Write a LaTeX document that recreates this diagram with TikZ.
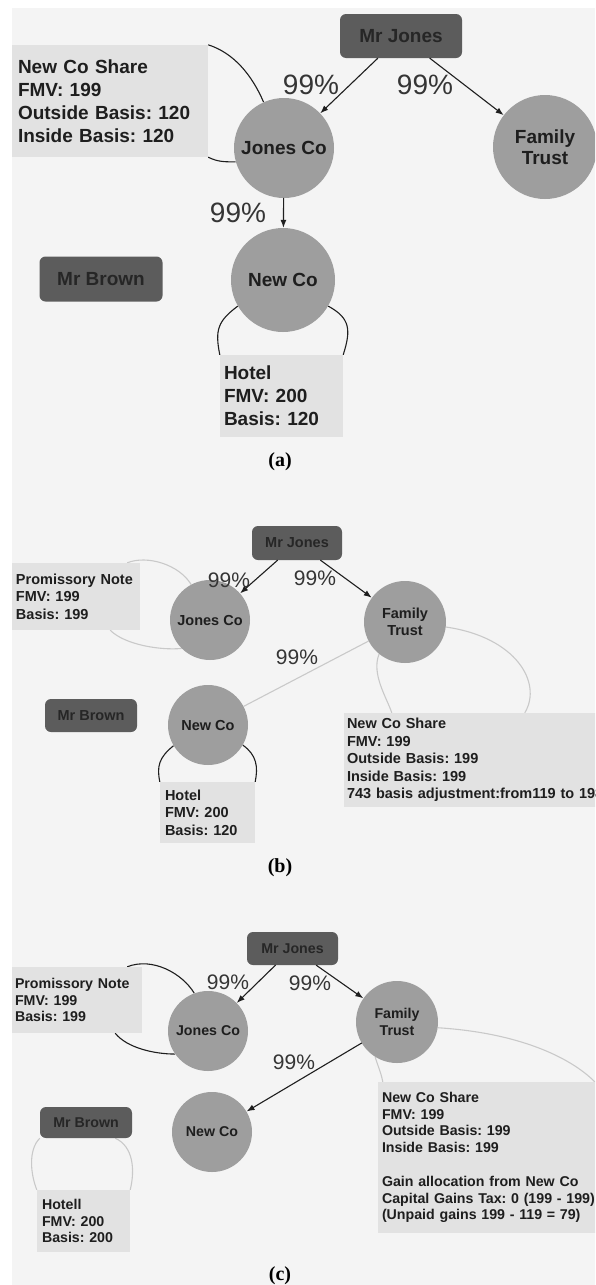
\documentclass[tikz,border=0pt]{standalone}
\usepackage{fontspec}
\newfontfamily\sanslab{Liberation Sans}
\newfontfamily\seriflab{Liberation Serif}
\usetikzlibrary{arrows.meta,backgrounds,calc}
\definecolor{pagegray}{HTML}{F4F4F4}
\definecolor{circgray}{HTML}{9E9E9E}
\definecolor{persongray}{HTML}{5C5C5C}
\definecolor{boxgray}{HTML}{E2E2E2}
\definecolor{faintgray}{HTML}{C9C9C9}
\definecolor{inkgray}{HTML}{1E1E1E}
\newcommand{\fonta}{\sanslab\bfseries\fontsize{19}{23}\selectfont}
\newcommand{\fontb}{\sanslab\bfseries\fontsize{14.5}{17.5}\selectfont}
\newcommand{\fontc}{\sanslab\bfseries\fontsize{14.2}{16.8}\selectfont}
\frenchspacing

\begin{document}
\begin{tikzpicture}[x=1pt, y=-1pt, line cap=round]
  % styles
  \tikzset{
    person/.style={fill=persongray, rounded corners=6pt, text=black!85, inner sep=0pt},
    firm/.style={circle, fill=circgray, text=inkgray, align=center, inner sep=0pt},
    asset/.style={fill=boxgray, text=inkgray, align=left, inner ysep=0pt},
    own/.style={-{Latex[length=8pt,width=6pt]}, line width=1.1pt, inkgray},
    tie/.style={line width=1.1pt, inkgray},
    faint/.style={line width=1.1pt, faintgray},
    pct/.style={text=inkgray!90},
    caption/.style={font=\seriflab\bfseries\fontsize{20}{20}\selectfont}
  }
  \useasboundingbox (0,0) rectangle (595,1285);
  \clip (0,0) rectangle (595,1285);
  \begin{scope}[on background layer]
    \fill[pagegray] (12,8) rectangle (595,1285);
  \end{scope}

  % (a) before the sale
  \begin{scope}[every node/.append style={font=\fonta}]
    \node[person, minimum width=122pt, minimum height=44pt] (mjA) at (401,36) {Mr Jones};
    \node[firm, minimum size=100pt] (jcA) at (284,148) {Jones Co};
    \node[firm, minimum size=104pt, font=\sanslab\bfseries\fontsize{19}{21}\selectfont] (ftA) at (545,147) {Family\\Trust};
    \node[firm, minimum size=104pt] (ncA) at (283,280) {New Co};
    \node[person, minimum width=123pt, minimum height=45pt] (mbA) at (101,279) {Mr Brown};
    \node[asset, inner xsep=6pt, text width=184pt, minimum height=112pt] (nsA) at (110,101)
      {New Co Share\\FMV: 199\\Outside Basis: 120\\Inside Basis: 120};
    \node[asset, inner xsep=4pt, text width=115pt, minimum height=82pt] (htA) at (281.5,396)
      {Hotel\\FMV: 200\\Basis: 120};
    \node[pct, font=\sanslab\fontsize{28}{28}\selectfont] (pa1) at (311,85) {99\%};
    \node[pct, font=\sanslab\fontsize{28}{28}\selectfont] (pa2) at (425,85) {99\%};
    \node[pct, font=\sanslab\fontsize{28}{28}\selectfont] (pa3) at (238,213) {99\%};
    \node[caption] (capA) at (280,462) {(a)};
  \end{scope}
  \draw[own] (mjA) -- (ftA);
  \draw[own] (mjA) -- (jcA);
  \draw[own] (jcA) -- (ncA);
  \begin{scope}[on background layer]
    \draw[tie] (nsA.north east) .. controls +(25,8) and +(-12,-28) .. (jcA.114);
    \draw[tie] (nsA.south east) .. controls +(10,5) and +(-10,0) .. (jcA.196);
    \draw[tie] (ncA.210) .. controls +(-20,15) and +(-5,-25) .. (htA.north west);
    \draw[tie] (ncA.330) .. controls +(22,12) and +(8,-25) .. (htA.north east);
  \end{scope}

  % (b) promissory note
  \begin{scope}[every node/.append style={font=\fontb}]
    \node[person, minimum width=90pt, minimum height=34pt] (mjB) at (297,543) {Mr Jones};
    \node[firm, minimum size=80pt] (jcB) at (210,620) {Jones Co};
    \node[firm, minimum size=82pt] (ftB) at (405,622) {Family\\Trust};
    \node[firm, minimum size=80pt] (ncB) at (208,725) {New Co};
    \node[person, minimum width=92pt, minimum height=33pt] (mbB) at (91,715.5) {Mr Brown};
    \node[asset, inner xsep=4pt, text width=120pt, minimum height=67pt] (pnB) at (76,596.5)
      {Promissory Note\\FMV: 199\\Basis: 199};
    \node[asset, inner xsep=5pt, text width=85pt, minimum height=61pt] (htB) at (207.5,812.5)
      {Hotel\\FMV: 200\\Basis: 120};
    \node[asset, inner xsep=3pt, text width=260pt, minimum height=94pt] (nsB) at (477,760)
      {New Co Share\\FMV: 199\\Outside Basis: 199\\Inside Basis: 199\\743 basis adjustment:from119 to 198};
    \node[pct, font=\sanslab\fontsize{21}{21}\selectfont] (pb1) at (229,580) {99\%};
    \node[pct, font=\sanslab\fontsize{21}{21}\selectfont] (pb2) at (315,578) {99\%};
    \node[pct, font=\sanslab\fontsize{21}{21}\selectfont] (pb3) at (297,657) {99\%};
    \node[caption] (capB) at (280,868) {(b)};
  \end{scope}
  \draw[own] (mjB) -- (jcB);
  \draw[own] (mjB) -- (ftB);
  \begin{scope}[on background layer]
    \draw[faint] (ftB) -- (ncB);
    \draw[faint] ($(pnB.north east)+(-13,0)$) .. controls +(20,-8) and +(-12,-20) .. (jcB.118);
    \draw[faint] ($(pnB.south east)+(-30,0)$) .. controls +(15,15) and +(-20,2) .. (jcB.225);
    \draw[faint] (ftB.231) .. controls +(-8,20) and +(-5,-15) .. ($(nsB.north west)+(48,0)$);
    \draw[faint] (ftB.-7) .. controls +(70,10) and +(18,-30) .. ($(nsB.north west)+(181,0)$);
    \draw[tie] (ncB.211) .. controls +(-15,12) and +(-3,-15) .. (htB.north west);
    \draw[tie] (ncB.-30) .. controls +(14,10) and +(3,-15) .. (htB.north east);
  \end{scope}

  % (c) after the sale
  \begin{scope}[every node/.append style={font=\fontc}]
    \node[person, minimum width=91pt, minimum height=33pt] (mjC) at (292.5,948.5) {Mr Jones};
    \node[firm, minimum size=80pt] (jcC) at (208,1031) {Jones Co};
    \node[firm, minimum size=82pt] (ftC) at (397,1022) {Family\\Trust};
    \node[firm, minimum size=80pt] (ncC) at (212,1132) {New Co};
    \node[person, minimum width=92pt, minimum height=31pt] (mbC) at (86,1122.5) {Mr Brown};
    \node[asset, inner xsep=3pt, text width=124pt, minimum height=66pt] (pnC) at (77,1000)
      {Promissory Note\\FMV: 199\\Basis: 199};
    \node[asset, inner xsep=5pt, text width=83pt, minimum height=62pt] (hlC) at (83.5,1221)
      {Hotell\\FMV: 200\\Basis: 200};
    \node[asset, inner xsep=4pt, text width=229pt, minimum height=151pt] (nsC) at (496.5,1157.5)
      {New Co Share\\FMV: 199\\Outside Basis: 199\\Inside Basis: 199\\[16.8pt]Gain allocation from New Co\\Capital Gains Tax: 0 (199 - 199)\\(Unpaid gains 199 - 119 = 79)};
    \node[pct, font=\sanslab\fontsize{21}{21}\selectfont] (pc1) at (228,982) {99\%};
    \node[pct, font=\sanslab\fontsize{21}{21}\selectfont] (pc2) at (310,983) {99\%};
    \node[pct, font=\sanslab\fontsize{21}{21}\selectfont] (pc3) at (294,1062) {99\%};
    \node[caption] (capC) at (280,1276) {(c)};
  \end{scope}
  \draw[own] (mjC) -- (jcC);
  \draw[own] (mjC) -- (ftC);
  \draw[own] (ftC) -- (ncC);
  \begin{scope}[on background layer]
    \draw[tie] ($(pnC.north east)+(-15,0)$) .. controls +(25,-10) and +(-12,-20) .. (jcC.110);
    \draw[tie] ($(pnC.south east)+(-27,0)$) .. controls +(12,15) and +(-20,0) .. (jcC.215);
    \draw[faint] (ftC.238) .. controls +(3,10) and +(-2,-10) .. ($(nsC.north west)+(5,0)$);
    \draw[faint] (ftC.-8) .. controls +(80,5) and +(-25,-25) .. ($(nsC.north west)+(217,0)$);
    \draw[faint] (mbC.south west) .. controls +(-12,12) and +(-6,-15) .. (hlC.north west);
    \draw[faint] ($(mbC.south east)+(-17,0)$) .. controls +(18,8) and +(5,-20) .. (hlC.north east);
  \end{scope}
\end{tikzpicture}
\end{document}
